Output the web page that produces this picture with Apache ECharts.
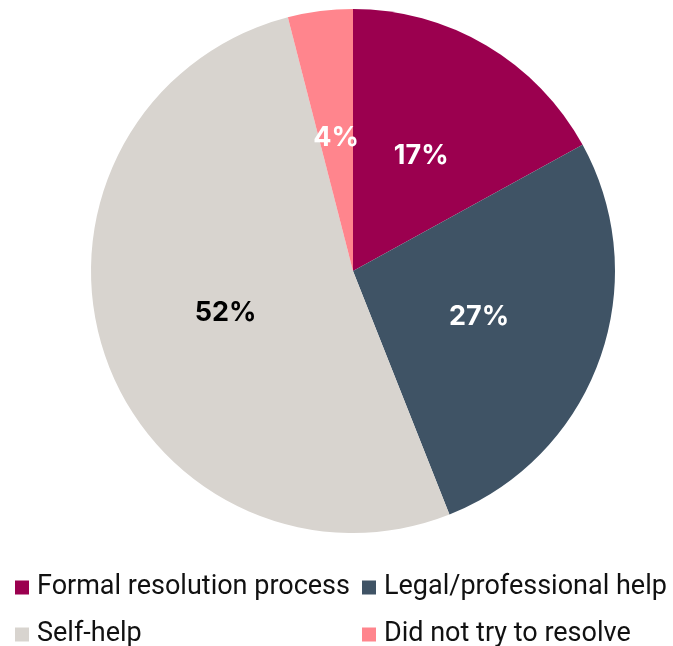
<!DOCTYPE html>
<html>
<head>
<meta charset="utf-8">
<script src="https://cdn.jsdelivr.net/npm/echarts@6/dist/echarts.min.js"></script>
<style>
  html, body { margin: 0; padding: 0; background: #ffffff; }
  #chart { width: 673px; height: 646px; }
</style>
</head>
<body>
<div id="chart"></div>
<script>
// How people dealt with their problem (share of respondents, %)
const categories = [
  'Formal resolution process',
  'Legal/professional help',
  'Self-help',
  'Did not try to resolve'
];
const shares = [17, 27, 52, 4];
const colors = ['#9B004F', '#3F5365', '#D8D4CF', '#FF858D'];
const labelColors = ['#ffffff', '#ffffff', '#000000', '#ffffff'];

const pieData = categories.map((name, i) => ({
  name: name,
  value: shares[i],
  itemStyle: { color: colors[i] },
  label: { color: labelColors[i] }
}));

// Legend laid out as a 2x2 grid: one legend block per entry
const legendSlots = [
  { left: 15, top: 574 },
  { left: 362, top: 574 },
  { left: 15, top: 621 },
  { left: 362, top: 621 }
];
const legends = categories.map((name, i) => ({
  data: [name],
  left: legendSlots[i].left,
  top: legendSlots[i].top,
  padding: 0,
  itemWidth: 14,
  itemHeight: 14,
  icon: 'rect',
  selectedMode: false,
  textStyle: {
    fontFamily: 'Roboto',
    fontSize: 27,
    color: '#111111',
    padding: [0, 0, 0, 3]
  }
}));

const chart = echarts.init(document.getElementById('chart'));
chart.setOption({
  animation: false,
  legend: legends,
  series: [{
    type: 'pie',
    center: [353, 271],
    radius: 262,
    startAngle: 90,
    clockwise: true,
    data: pieData,
    label: {
      show: true,
      position: 'inside',
      formatter: '{c}%',
      fontFamily: 'Inter',
      fontWeight: 'bold',
      fontSize: 27
    },
    labelLine: { show: false },
    itemStyle: { borderWidth: 0 },
    emphasis: { disabled: true }
  }]
});
</script>
</body>
</html>
